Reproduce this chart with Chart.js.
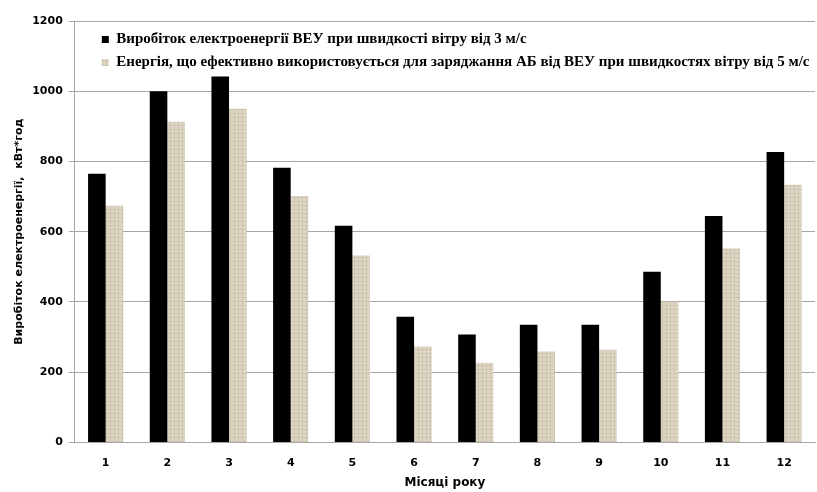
<!DOCTYPE html>
<html>
<head>
<meta charset="utf-8">
<script src="https://cdn.jsdelivr.net/npm/chart.js@4/dist/chart.umd.min.js"></script>
<style>
  html, body { margin: 0; padding: 0; background: #fff; }
  #wrap { width: 817px; height: 492px; }
</style>
</head>
<body>
<div id="wrap"><canvas id="myChart"></canvas></div>
<script>
// months of the year
const months = ["1", "2", "3", "4", "5", "6", "7", "8", "9", "10", "11", "12"];
// generation from 3 m/s
const generation = [765, 1000, 1042, 782, 617, 358, 307, 335, 335, 486, 645, 827];
// energy used for charging from 5 m/s
const charging = [674, 913, 950, 702, 532, 273, 227, 259, 264, 401, 552, 734];
const yTicks = [0, 200, 400, 600, 800, 1000, 1200];

const label1 = "Виробіток електроенергії ВЕУ при швидкості вітру від 3 м/с";
const label2 = "Енергія, що ефективно використовується для заряджання АБ від ВЕУ при швидкостях вітру від 5 м/с";

// linen-like fill for the second series
function makeLinen() {
  const c = document.createElement("canvas");
  c.width = 4;
  c.height = 4;
  const g = c.getContext("2d");
  g.fillStyle = "#ded7c7";
  g.fillRect(0, 0, 4, 4);
  g.fillStyle = "#cfc5ae";
  g.fillRect(0, 1, 4, 1);
  g.fillRect(2, 0, 1, 4);
  return g.createPattern(c, "repeat");
}
const linen = makeLinen();

const axisFont = { family: "DejaVu Sans", size: 11, weight: "bold" };

// put the legend inside the plot, a bit away from the left axis
const legendShift = {
  id: "legendShift",
  afterLayout(chart) {
    const lg = chart.legend;
    const w = lg.right - lg.left;
    const h = lg.bottom - lg.top;
    lg.left = chart.chartArea.left + 19;
    lg.right = lg.left + w;
    lg.top = chart.chartArea.top + 3;
    lg.bottom = lg.top + h;
  },
};

new Chart(document.getElementById("myChart"), {
  type: "bar",
  data: {
    labels: months,
    datasets: [
      {
        label: label1,
        data: generation,
        backgroundColor: "#000000",
        borderWidth: 0,
      },
      {
        label: label2,
        data: charging,
        backgroundColor: linen,
        borderWidth: 0,
      },
    ],
  },
  options: {
    responsive: true,
    maintainAspectRatio: false,
    animation: false,
    layout: { padding: { left: 13, right: 2, top: 21, bottom: 2 } },
    plugins: {
      tooltip: { enabled: false },
      legend: {
        position: "chartArea",
        align: "start",
        labels: {
          color: "#000",
          boxWidth: 7,
          boxHeight: 7,
          padding: 8,
          font: { family: "Liberation Serif", size: 15, weight: "bold" },
        },
      },
    },
    datasets: {
      bar: { categoryPercentage: 0.57, barPercentage: 1 },
    },
    scales: {
      x: {
        grid: { display: false },
        border: { display: true, color: "#a6a6a6", width: 1 },
        ticks: { color: "#000", font: axisFont, padding: 6 },
        title: {
          display: true,
          text: "Місяці року",
          color: "#000",
          font: { family: "DejaVu Sans", size: 12, weight: "bold" },
          padding: { top: 0, bottom: 0 },
        },
      },
      y: {
        min: 0,
        max: 1200,
        afterBuildTicks(axis) {
          axis.ticks = yTicks.map((v) => ({ value: v }));
        },
        grid: { color: "#a6a6a6", lineWidth: 1, tickLength: 6 },
        border: { display: true, color: "#a6a6a6", width: 1 },
        ticks: {
          color: "#000",
          font: axisFont,
          padding: 6,
          callback: (v) => String(v),
        },
        title: {
          display: true,
          text: "Виробіток електроенергії,  кВт*год",
          color: "#000",
          font: { family: "DejaVu Sans", size: 11, weight: "bold" },
          padding: { top: 0, bottom: 0 },
        },
      },
    },
  },
  plugins: [legendShift],
});
</script>
</body>
</html>
